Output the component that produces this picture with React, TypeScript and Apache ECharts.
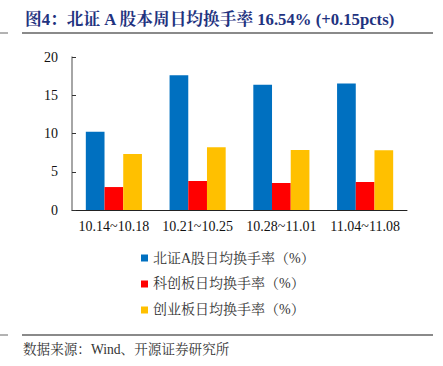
import React, { useEffect, useRef } from "react";
import * as echarts from "echarts";

const categories = ["10.14~10.18", "10.21~10.25", "10.28~11.01", "11.04~11.08"];
const bseTurnover = [10.24, 17.62, 16.38, 16.54];
const starTurnover = [3.0, 3.79, 3.53, 3.66];
const chinextTurnover = [7.32, 8.2, 7.84, 7.8];
const seriesNames = ["北证A股日均换手率（%）", "科创板日均换手率（%）", "创业板日均换手率（%）"];
const yTicks = { min: 0, max: 20, interval: 5 };

const serif = "'Times New Roman', 'Liberation Serif', 'Noto Serif CJK SC', 'Noto Sans CJK SC', serif";

export default function App() {
  const ref = useRef<HTMLDivElement>(null);
  useEffect(() => {
    if (!ref.current) return;
    const chart = echarts.init(ref.current, null, { renderer: "svg" });
    const colors = ["#0070C0", "#FF0000", "#FFC000"];
    const data = [bseTurnover, starTurnover, chinextTurnover];
    chart.setOption({
      animation: false,
      backgroundColor: "#ffffff",
      grid: { left: 72, right: 36, top: 57, bottom: 156, containLabel: false },
      legend: {
        orient: "vertical",
        left: 136,
        top: 246,
        itemWidth: 7,
        itemHeight: 7,
        itemGap: 12,
        icon: "rect",
        textStyle: { fontSize: 14, color: "#333", fontFamily: serif },
        data: seriesNames,
      },
      xAxis: {
        type: "category",
        data: categories,
        axisLine: { lineStyle: { color: "#222", width: 1 } },
        axisTick: { inside: true, length: 4, lineStyle: { color: "#222" } },
        axisLabel: { fontSize: 14, color: "#111", fontFamily: serif, margin: 9, interval: 0 },
      },
      yAxis: {
        type: "value",
        min: yTicks.min,
        max: yTicks.max,
        interval: yTicks.interval,
        splitLine: { show: false },
        axisLine: { show: true, lineStyle: { color: "#888", width: 1.5 } },
        axisTick: { show: true, inside: true, length: 4, lineStyle: { color: "#333" } },
        axisLabel: { fontSize: 14, color: "#111", fontFamily: serif, margin: 14 },
      },
      series: seriesNames.map((name, i) => ({
        name,
        type: "bar",
        data: data[i],
        barGap: "0%",
        barCategoryGap: "33%",
        itemStyle: { color: colors[i] },
      })),
      graphic: [
        {
          type: "text",
          left: 25,
          top: 11,
          style: {
            text: "图4：北证 A 股本周日均换手率 16.54% (+0.15pcts)",
            fontSize: 16.7,
            fontWeight: "bold",
            fill: "#1F3380",
            fontFamily: serif,
          },
        },
        { type: "line", shape: { x1: 22, y1: 33, x2: 433, y2: 33 }, style: { stroke: "#8a8a8a", lineWidth: 2 } },
        { type: "line", shape: { x1: 0, y1: 33, x2: 8, y2: 33 }, style: { stroke: "#666", lineWidth: 1 } },
        { type: "line", shape: { x1: 22, y1: 335, x2: 433, y2: 335 }, style: { stroke: "#8a8a8a", lineWidth: 2 } },
        { type: "line", shape: { x1: 0, y1: 335, x2: 8, y2: 335 }, style: { stroke: "#666", lineWidth: 1 } },
        {
          type: "text",
          left: 23,
          top: 343,
          style: {
            text: "数据来源：Wind、开源证券研究所",
            fontSize: 13.6,
            fill: "#333",
            fontFamily: serif,
          },
        },
      ],
    });
    return () => chart.dispose();
  }, []);
  return (
    <div
      ref={ref}
      style={{ position: "fixed", left: 0, top: 0, width: 443, height: 366, background: "#fff" }}
    />
  );
}
